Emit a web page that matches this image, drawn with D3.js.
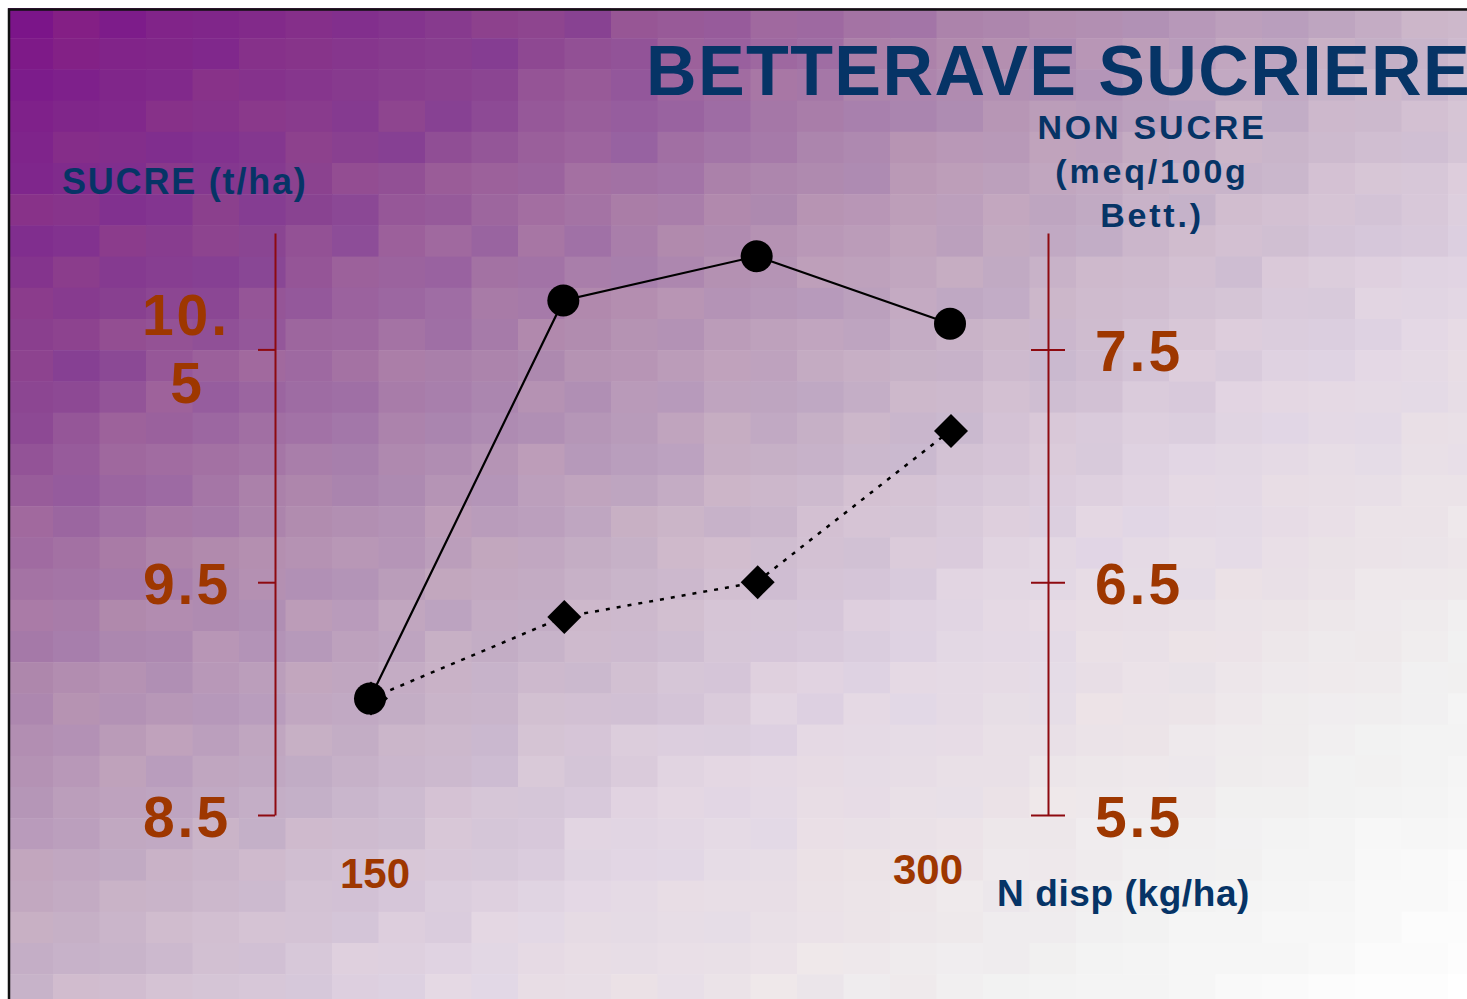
<!DOCTYPE html>
<html>
<head>
<meta charset="utf-8">
<script src="https://cdn.jsdelivr.net/npm/d3@7"></script>
<style>
  html, body { margin: 0; padding: 0; background: #fff; }
  svg { display: block; }
</style>
</head>
<body>
<div id="chart"></div>
<script>
// Data
var nDisp = [150, 200, 250, 300];
var sucre = [9.0, 10.71, 10.9, 10.61];        // t/ha, circles, solid line
var nonSucre = [6.0, 6.35, 6.5, 7.15];        // meq/100g, diamonds, dotted line
var leftTicks = [8.5, 9.5, 10.5];
var rightTicks = [5.5, 6.5, 7.5];
var xTickLabels = [150, 300];

var W = 1467, H = 999;
var font = "'Liberation Sans', Arial, sans-serif";
var blue = "#063466", brown = "#9e3700", axisRed = "#8e0a10";

var svg = d3.select('#chart').append('svg')
    .attr('width', W)
    .attr('height', H);

// Mosaic background: diagonal purple -> white, in tiles
var bg = d3.scaleLinear()
    .domain([0, 0.1, 0.2, 0.36, 0.49, 0.64, 0.75, 0.85, 1])
    .range(['#7f1485', '#822a8a', '#8a4290', '#ae88ae', '#c6b0c6', '#e2d6e4', '#ece4e8', '#f2f2f2', '#ffffff'])
    .interpolate(d3.interpolateRgb)
    .clamp(true);

var tw = 46.5, th = 31.2, x0 = 6.5, y0 = 7;
var tiles = [];
for (var j = -1; j < 33; j++) {
  for (var i = -1; i < 33; i++) {
    var cx = x0 + (i + 0.5) * tw, cy = y0 + (j + 0.5) * th;
    var h = Math.sin(i * 12.9898 + j * 78.233) * 43758.5453;
    h = h - Math.floor(h);
    tiles.push({ x: x0 + i * tw, y: y0 + j * th, t: (cx / W + cy / H) / 2 + (h - 0.5) * 0.035, h: h });
  }
}
svg.append('g').selectAll('rect')
    .data(tiles)
    .enter().append('rect')
    .attr('x', function (d) { return d.x; })
    .attr('y', function (d) { return d.y; })
    .attr('width', tw + 0.5)
    .attr('height', th + 0.5)
    .attr('fill', function (d) {
      var c = d3.rgb(bg(d.t));
      // slight pink / blue tint per tile
      var k = (d.h - 0.5) * 8 * (1 - Math.min(1, d.t * 1.1));
      c.r += k; c.b -= k;
      return c.formatHex();
    });

// white margin + frame
svg.append('rect').attr('x', 0).attr('y', 0).attr('width', W).attr('height', 8).attr('fill', '#fff');
svg.append('rect').attr('x', 0).attr('y', 0).attr('width', 8).attr('height', H).attr('fill', '#fff');
svg.append('path')
    .attr('d', 'M9,' + H + 'V9.5H' + W)
    .attr('fill', 'none')
    .attr('stroke', '#111')
    .attr('stroke-width', 2.5);

// Scales
var x = d3.scaleLinear().domain([150, 300]).range([370, 950]);
var yL = d3.scaleLinear().domain([8.5, 11]).range([815, 233]);
var yR = d3.scaleLinear().domain([5.5, 8]).range([815, 233]);

// Left axis
var gL = svg.append('g')
    .attr('transform', 'translate(275,0)')
    .call(d3.axisLeft(yL).tickValues(leftTicks).tickSize(17).tickSizeOuter(0).tickFormat(''));
// Right axis (ticks cross the line)
var gR = svg.append('g')
    .attr('transform', 'translate(1048,0)')
    .call(d3.axisRight(yR).tickValues(rightTicks).tickSize(17).tickSizeOuter(0).tickFormat(''));
gR.selectAll('.tick line').attr('x1', -17);
[gL, gR].forEach(function (g) {
  g.select('.domain').attr('stroke', axisRed).attr('stroke-width', 2);
  g.selectAll('.tick line').attr('stroke', axisRed).attr('stroke-width', 2);
});

// Tick labels
var leftLab = svg.append('g')
    .style('font', 'bold 57px ' + font)
    .attr('fill', brown)
    .attr('text-anchor', 'middle');
leftTicks.forEach(function (v) {
  if (v === 10.5) {
    leftLab.append('text').attr('x', 186).attr('y', yL(v) - 14).style('letter-spacing', '3px').text('10.');
    leftLab.append('text').attr('x', 186).attr('y', yL(v) + 54).text('5');
  } else {
    leftLab.append('text').attr('x', 187).attr('y', yL(v) + 22).style('letter-spacing', '3px').text(v.toFixed(1));
  }
});
svg.append('g')
    .style('font', 'bold 57px ' + font)
    .attr('fill', brown)
    .attr('text-anchor', 'middle')
    .selectAll('text')
    .data(rightTicks)
    .enter().append('text')
    .attr('x', 1139)
    .attr('y', function (d) { return yR(d) + 22; })
    .style('letter-spacing', '3px')
    .text(function (d) { return d.toFixed(1); });

// X labels
svg.append('g')
    .style('font', 'bold 42px ' + font)
    .attr('fill', brown)
    .attr('text-anchor', 'middle')
    .selectAll('text')
    .data(xTickLabels)
    .enter().append('text')
    .attr('x', function (d) { return d === 150 ? x(d) + 5 : x(d) - 22; })
    .attr('y', function (d) { return d === 150 ? 888 : 884; })
    .text(function (d) { return d; });

// Titles
svg.append('text')
    .attr('x', 646).attr('y', 95)
    .attr('fill', blue)
    .style('font', 'bold 70px ' + font)
    .style('letter-spacing', '1.4px')
    .text('BETTERAVE SUCRIERE');

svg.append('text')
    .attr('x', 62).attr('y', 194)
    .attr('fill', blue)
    .style('font', 'bold 36px ' + font)
    .style('letter-spacing', '1.8px')
    .text('SUCRE (t/ha)');

svg.append('g')
    .attr('fill', blue)
    .attr('text-anchor', 'middle')
    .style('font', 'bold 34px ' + font)
    .style('letter-spacing', '2.8px')
    .selectAll('text')
    .data(['NON SUCRE', '(meq/100g', 'Bett.)'])
    .enter().append('text')
    .attr('x', 1152)
    .attr('y', function (d, i) { return 139 + i * 44; })
    .text(function (d) { return d; });

svg.append('text')
    .attr('x', 997).attr('y', 906)
    .attr('fill', blue)
    .style('font', 'bold 37px ' + font)
    .style('letter-spacing', '0.6px')
    .text('N disp (kg/ha)');

// Lines
var sData = nDisp.map(function (n, i) { return { n: n, v: sucre[i] }; });
var nsData = nDisp.map(function (n, i) { return { n: n, v: nonSucre[i] }; });

svg.append('path')
    .datum(nsData)
    .attr('d', d3.line().x(function (d) { return x(d.n); }).y(function (d) { return yR(d.v); }))
    .attr('fill', 'none')
    .attr('stroke', '#000')
    .attr('stroke-width', 2.5)
    .attr('stroke-dasharray', '4,7');

svg.append('path')
    .datum(sData)
    .attr('d', d3.line().x(function (d) { return x(d.n); }).y(function (d) { return yL(d.v); }))
    .attr('fill', 'none')
    .attr('stroke', '#000')
    .attr('stroke-width', 2.2);

// Markers
svg.selectAll('.diamond')
    .data(nsData)
    .enter().append('path')
    .attr('class', 'diamond')
    .attr('d', 'M0,-17L17,0L0,17L-17,0Z')
    .attr('transform', function (d) { return 'translate(' + (x(d.n) + 1) + ',' + yR(d.v) + ')'; })
    .attr('fill', '#000');

svg.selectAll('.dot')
    .data(sData)
    .enter().append('circle')
    .attr('class', 'dot')
    .attr('r', 16)
    .attr('cx', function (d) { return x(d.n); })
    .attr('cy', function (d) { return yL(d.v); })
    .attr('fill', '#000');
</script>
</body>
</html>
